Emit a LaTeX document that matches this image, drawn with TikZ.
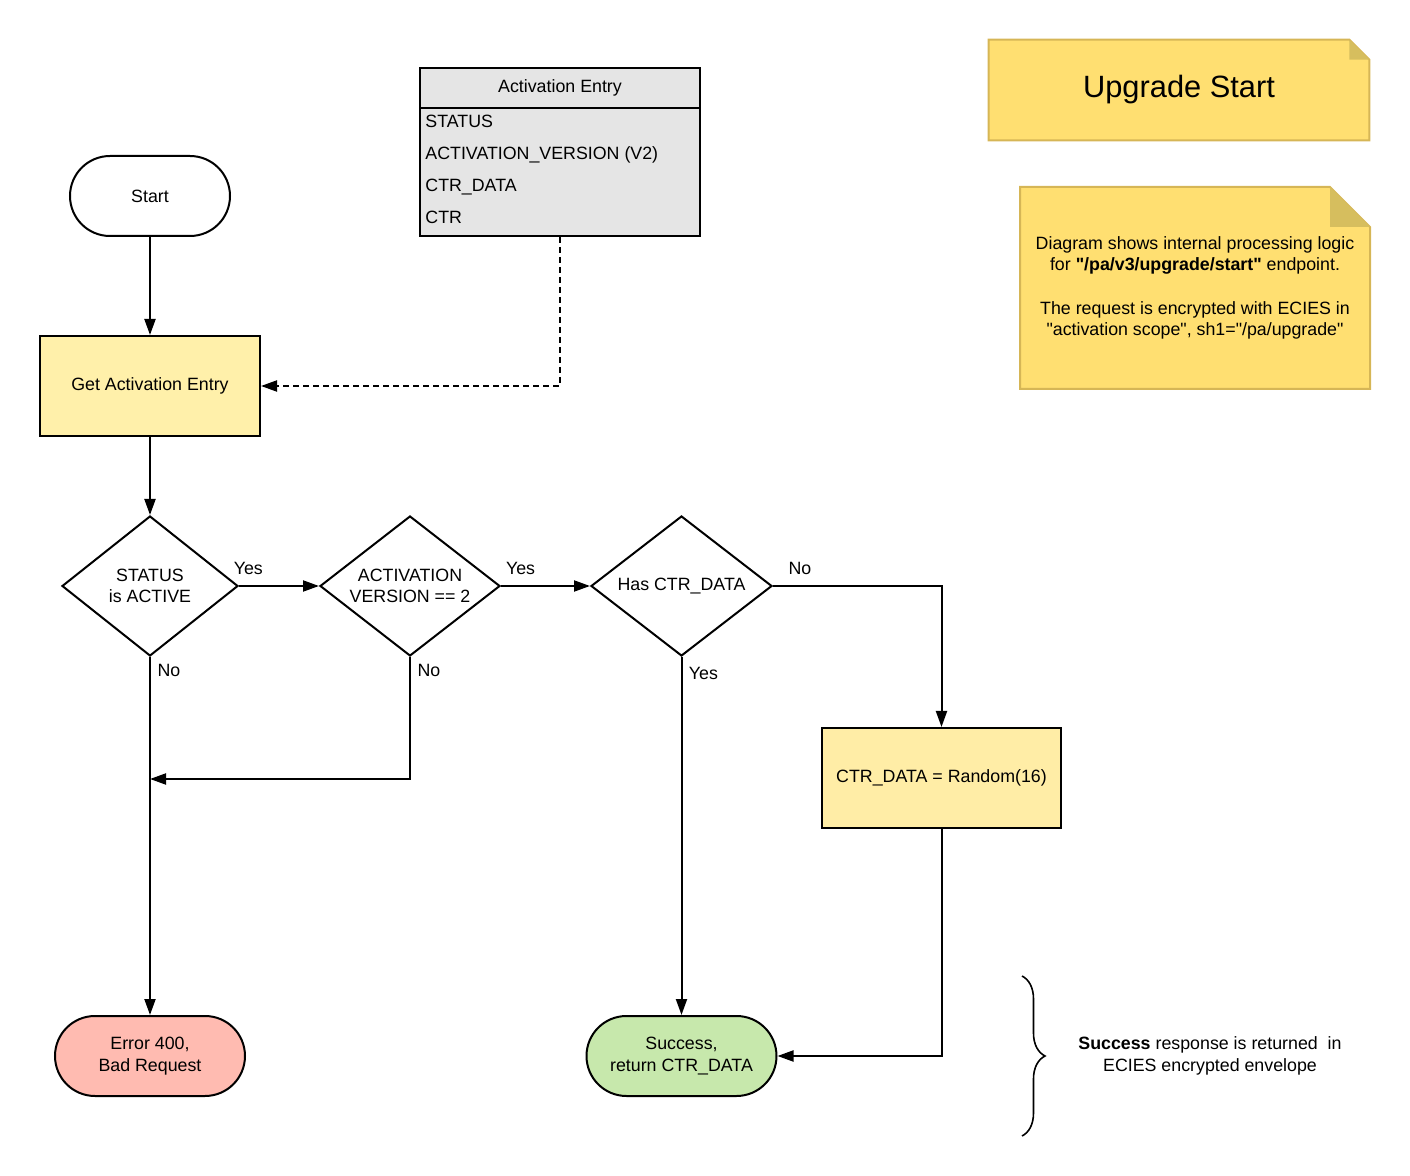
\documentclass[tikz,border=0pt]{standalone}
\usepackage{fontspec}
\setmainfont{Liberation Sans}
\newfontfamily\plainquote{Liberation Sans}
\newcommand\dquote{{\plainquote"}}
\usepackage{xcolor}
\usepackage{tikz}
\usetikzlibrary{shapes,arrows,positioning,calc,arrows.meta,backgrounds,decorations.pathreplacing}

\definecolor{procfill}{HTML}{FFF0AA}
\definecolor{ctrfill}{HTML}{FFEDA6}
\definecolor{errfill}{HTML}{FFBBB1}
\definecolor{okfill}{HTML}{C7E8AC}
\definecolor{notefill}{HTML}{FFDF71}
\definecolor{noteline}{HTML}{D6B656}
\definecolor{notefold}{HTML}{D6BE5E}
\definecolor{entryfill}{HTML}{E5E5E5}

\tikzset{
  base/.style={font=\fontsize{8.9}{10.8}\selectfont, align=center, inner sep=0pt, line width=1pt},
  terminal/.style={base, draw, rounded corners=20pt, minimum width=80pt, minimum height=40pt},
  process/.style={base, draw, fill=procfill, minimum width=110pt, minimum height=50pt},
  decision/.style={base, draw, diamond, aspect=1.26, minimum width=88pt, minimum height=70pt},
  flow/.style={line width=1pt, -{Triangle[length=8pt,width=5.5pt]}},
  lbl/.style={font=\fontsize{8.9}{10.8}\selectfont, inner sep=0pt},
  field/.style={font=\fontsize{8.9}{10.8}\selectfont, anchor=west, inner sep=0pt, text height=7pt, text depth=2pt},
  note/.style={fill=notefill, draw=noteline, line width=1pt},
}

\begin{document}
\begin{tikzpicture}[x=0.5pt, y=-0.5pt]
    \useasboundingbox (0,0) rectangle (1410,1176);

    % main flow
    \node[terminal] (start) at (150,196) {Start};
    \node[process] (get) at (150,386) {Get Activation Entry};
    \node[decision] (d1) at (150,586) {STATUS\\is ACTIVE};
    \node[decision, minimum width=90pt] (d2) at (410,586) {ACTIVATION\\VERSION == 2};
    \node[decision, minimum width=90.5pt] (d3) at (681.5,586) {Has CTR\_DATA};
    \node[process, fill=ctrfill, minimum width=119.5pt] (ctr) at (941.5,778) {CTR\_DATA = Random(16)};
    \node[terminal, fill=errfill, minimum width=95pt] (err) at (150,1056) {Error 400,\\Bad Request};
    \node[terminal, fill=okfill, minimum width=95pt] (ok) at (681.5,1056) {Success,\\return CTR\_DATA};
    \coordinate (merge) at (150,779);

    % activation entry table
    \node[base, draw, fill=entryfill, minimum width=140pt, minimum height=20pt] (ehead) at (560,88) {Activation Entry};
    \node[base, draw, fill=entryfill, minimum width=140pt, minimum height=64pt] (ebody) at (560,172) {};
    \node[field] (fstatus) at (425,123) {STATUS};
    \node[field] (fversion) at (425,155) {ACTIVATION\_VERSION (V2)};
    \node[field] (fdata) at (425,187) {CTR\_DATA};
    \node[field] (fctr) at (425,219) {CTR};

    % notes
    \node[font=\fontsize{15.4}{18}\selectfont, inner sep=0pt, minimum width=190pt, minimum height=50pt] (title) at (1179,90) {Upgrade Start};
    \node[base, minimum width=174pt, minimum height=100pt] (desc) at (1195,288) {Diagram shows internal processing logic\\for \textbf{\dquote/pa/v3/upgrade/start\dquote} endpoint.\\[10.8pt]The request is encrypted with ECIES in\\\dquote activation scope\dquote, sh1=\dquote/pa/upgrade\dquote};
    \begin{scope}[on background layer]
        \draw[note] (title.north west) -- ([xshift=-10pt]title.north east) -- ([yshift=-10pt]title.north east) -- (title.south east) -- (title.south west) -- cycle;
        \fill[notefold] ([xshift=-10pt]title.north east) -- ([yshift=-10pt]title.north east) -- ([xshift=-10pt,yshift=-10pt]title.north east) -- cycle;
        \draw[note] (desc.north west) -- ([xshift=-20pt]desc.north east) -- ([yshift=-20pt]desc.north east) -- (desc.south east) -- (desc.south west) -- cycle;
        \fill[notefold] ([xshift=-20pt]desc.north east) -- ([yshift=-20pt]desc.north east) -- ([xshift=-20pt,yshift=-20pt]desc.north east) -- cycle;
    \end{scope}

    % response remark
    \node[base] (resp) at (1210,1056) {\textbf{Success} response is returned\ \ in\\ECIES encrypted envelope};
    \coordinate (btop) at (1022,976);
    \coordinate (bbot) at (1022,1136);
    \draw[line width=0.8pt, decorate, decoration={brace, amplitude=11.5pt}] (btop) -- (bbot);

    % connectors
    \draw[flow] (start) -- (get);
    \draw[flow, dash pattern=on 3pt off 2pt] (ebody.south) |- (get.east);
    \draw[flow] (get) -- (d1);
    \draw[flow] (d1.east) -- node[lbl, pos=0.116, yshift=9pt] {Yes} (d2.west);
    \draw[flow] (d2.east) -- node[lbl, pos=0.22, yshift=9pt] {Yes} (d3.west);
    \draw[flow] (d3.east) -- node[lbl, pos=0.16, yshift=9pt] {No} (d3.east -| ctr.north) -- (ctr.north);
    \draw[flow] (d1.south) -- node[lbl, pos=0.039, xshift=9.5pt] {No} (err.north);
    \draw[flow] (d2.south) -- node[lbl, pos=0.114, xshift=9.5pt] {No} (d2.south |- merge) -- (merge);
    \draw[flow] (d3.south) -- node[lbl, pos=0.047, xshift=11pt] {Yes} (ok.north);
    \draw[flow] (ctr.south) |- (ok.east);
\end{tikzpicture}
\end{document}
